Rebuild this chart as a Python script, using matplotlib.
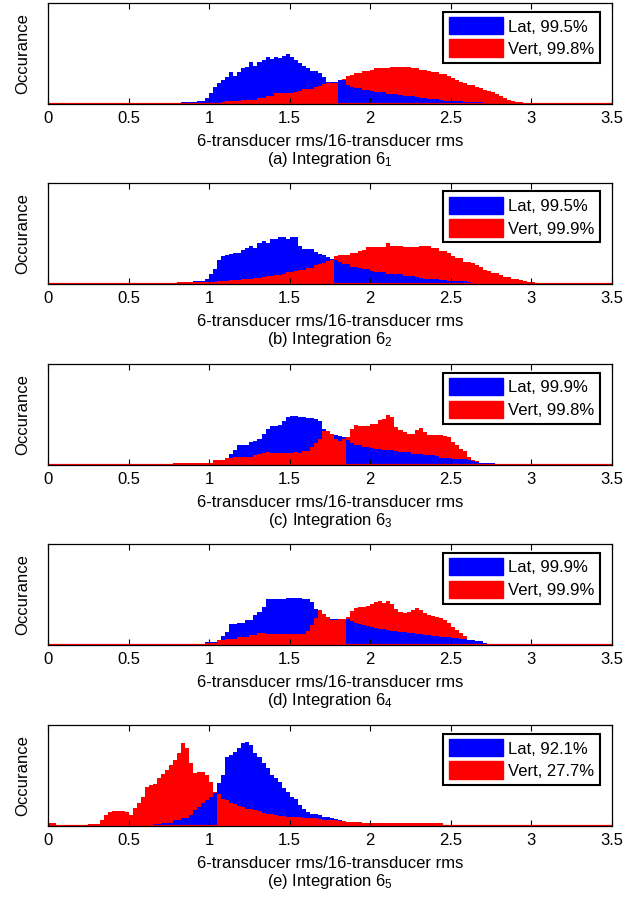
import numpy as np
import matplotlib
matplotlib.use("Agg")
import matplotlib.pyplot as plt

plt.rcParams["font.family"] = ["Liberation Sans", "DejaVu Sans"]
plt.rcParams["mathtext.fontset"] = "custom"
plt.rcParams["mathtext.rm"] = "Liberation Sans"
plt.rcParams["mathtext.it"] = "Liberation Sans:italic"

BIN = 0.025

# --- (a) Integration 6_1 ---
start_a = 0.75
split_a = 1.80
lat_a = [1.5, 1.5, 1.5, 1.7, 1.7, 1.7, 2, 3, 3, 5.7,
         10.7, 17, 21, 24, 26.7, 31.7, 28, 31.7, 35.7, 37,
         41.7, 38, 42, 44, 47, 44.7, 46.7, 45.7, 48, 50,
         47, 44, 40.7, 38, 35.7, 33, 33, 30.7, 27.3, 22,
         22, 22,
         24, 24, 19, 17, 15.7, 15.7, 14, 14, 13, 12.3,
         12.3, 12, 10.5, 10, 10, 9.5, 8.5, 8, 8, 7,
         6, 5.7, 5.5, 5.5, 5, 4, 3.3, 3.3, 3.3, 3,
         2.7, 2, 2, 2, 2, 1.8, 1.5, 1.2, 1, 1,
         1, 1, 1, 1, 1, 1, 1, 0.8, 1.5, 1.5,
         1.5, 0.5]
vert_a = [1.5, 1.5, 1.5, 1.5, 1.5, 1.5, 1.5, 1.5, 1.5, 1.5,
          1.5, 1.5, 1.5, 2, 3, 3, 3, 3.5, 4, 4,
          4, 4.5, 5.7, 6.5, 8, 8.5, 10.7, 10.7, 11, 11.3,
          11.3, 12.5, 13.3, 15, 15, 15.5, 17.3, 18, 19.7, 21,
          21.3, 21.3,
          24.5, 25, 28, 29, 30.7, 31.5, 33, 33, 34.5, 35.7,
          35.7, 36.5, 36, 37.3, 37.3, 37, 37.3, 37, 35.7, 36,
          34.5, 34, 33, 32.3, 32.3, 30.5, 29.7, 28, 25.7, 24.5,
          22.3, 21, 19.5, 19, 17, 15.7, 14.5, 13, 12, 10,
          8, 6.5, 4.5, 3.5, 2.5, 2, 1.5, 1.2, 1, 1,
          1, 0.8]

# --- (b) Integration 6_2 ---
start_b = 0.75
split_b = 1.775
lat_b = [0, 0.5, 1.3, 1.3, 1.3, 1.3, 3.3, 3.3, 3.3, 5.3,
         9.7, 15.3, 23.7, 27.7, 28.7, 29.7, 31.3, 31.3, 33.7, 36,
         38, 36, 41.3, 42.7, 41.3, 44.7, 44.7, 46.7, 46.7, 45.3,
         46.7, 46.7, 38, 35, 34.7, 34.7, 32, 29.7, 29, 27,
         25,
         23.7, 22, 20.3, 20.3, 17, 17, 15.5, 14.7, 14.7, 13,
         12, 12, 11.5, 10.3, 10.3, 10, 9.5, 8, 8, 8,
         7, 5.7, 5.3, 5.3, 5, 4.5, 3.7, 3.7, 3.3, 2.7,
         2.7, 2.7, 2.5, 1.5, 1.3, 1.3, 1.3, 1.3, 1.3, 1.3,
         1.3, 1.3, 1, 1, 1, 1, 0.8, 0.8, 0.8, 0.8,
         0.5, 0.5, 0.5]
vert_b = [1, 1, 2, 2, 2, 2, 2, 2, 2, 2,
          2, 2, 2.7, 2.7, 2.7, 3.7, 3.7, 4, 4.7, 4.7,
          4.7, 6, 6, 7, 8, 8, 9.3, 9.3, 9.5, 12,
          12, 12.5, 13.7, 13.7, 16, 16, 18.7, 19.5, 21.3, 23,
          23.7,
          28, 28.5, 29, 29, 30.7, 30.7, 33, 34, 36.7, 36.7,
          37.3, 37.3, 37.3, 40.7, 38, 38, 38, 37.3, 37.3, 37.3,
          37.3, 38, 38, 38, 35.7, 35.7, 33.3, 33.3, 30.7, 28,
          25.7, 25.7, 22.3, 22.3, 21, 19, 17, 14, 13, 11,
          10.7, 9, 7.3, 7, 5, 4.7, 3.5, 2.5, 2, 1.5,
          1.2, 1, 0.8]

# --- (c) Integration 6_3 ---
start_c = 0.75
split_c = 1.85
lat_c = [1, 1, 1.5, 1.5, 1.5, 1.5, 1.5, 2, 2, 2,
         2, 3, 4, 5, 7, 11.3, 14.7, 20.3, 20.3, 20.3,
         23, 24, 26.3, 31.3, 36.3, 39, 39, 40.3, 44, 48,
         49, 49, 47.7, 47.7, 47, 47, 46.3, 44, 36.3, 31.3,
         29.7, 29.7, 29, 28,
         24.7, 22, 19.7, 19.7, 18, 18, 17, 16.3, 16.3, 15,
         14.7, 14.7, 14, 13, 13, 13, 11.5, 11.3, 11.3, 10,
         9.7, 9.7, 9, 7.5, 7, 7, 6.5, 6, 5.7, 5.7,
         5, 3.7, 3, 2.3, 2.3, 2.3, 2, 1.5, 1.3, 1.3,
         1.3, 1.3, 1.3, 1, 1, 1, 1, 0.8, 0.8, 0.8]
vert_c = [1, 2, 2, 2, 2, 2, 2, 2, 2, 2,
          2, 4.7, 4.7, 4.7, 7, 7, 8, 8, 8, 8,
          8.5, 10.3, 11, 12.3, 13, 12, 12.3, 12, 12.3, 12.5,
          12.5, 13, 12.3, 13.7, 14.5, 18, 22, 26.3, 33.7, 33.7,
          31.3, 25.7, 23.7, 25.7,
          28, 36.3, 39.7, 39, 39, 39, 41.3, 41.3, 44.7, 46.3,
          49.7, 48, 38, 35, 33, 31.3, 31.3, 34.7, 37, 33,
          30.5, 29.7, 29.7, 29.7, 29, 28, 23, 20, 16.3, 13.7,
          8, 5, 3.7, 1.5, 1, 1, 1, 1, 1, 1,
          1, 1, 1, 1, 1, 1, 1, 1, 1, 1]

# --- (d) Integration 6_4 ---
start_d = 0.75
split_d = 1.85
lat_d = [1, 1, 1, 1, 1, 1, 1, 1, 1, 3,
         3, 3, 4.7, 9, 13, 21.3, 21.3, 22.3, 22.3, 24.7,
         24.7, 29.7, 33, 38, 46.3, 46.3, 46.3, 46.3, 46.3, 47,
         47, 47, 47, 46.3, 46.3, 43, 36.3, 33.7, 28, 28,
         25.7, 25.7, 25.7, 25.7,
         26, 24, 22, 21, 20, 19, 18, 17, 16.5, 16,
         15, 14.5, 14, 13, 13, 12.5, 12, 11.5, 11, 10.5,
         10, 9.5, 9, 8.5, 8, 8, 7.5, 7, 6.5, 6,
         5.5, 5, 4.5, 4, 2.5, 1.5, 1.3, 1.3, 1.3, 1.3,
         1.3, 1.3, 1.3, 1.3, 1.3, 1.3, 1.3, 1.3, 1.3, 1.3]
vert_d = [0.7, 0.7, 0.7, 0.7, 0.7, 0.7, 0.7, 0.7, 0.7, 2.3,
          2.3, 2.3, 4.7, 4.7, 6.3, 6.3, 6.3, 8, 8, 8,
          9.7, 9.7, 12.3, 12.3, 11.3, 11.3, 11.3, 11.3, 11.3, 11.3,
          11.3, 11.3, 11.3, 11.3, 13.7, 19.7, 27, 34.7, 31.3, 28,
          24.7, 24.7, 26.3, 26.3,
          28, 34, 37, 38, 38.5, 39, 41, 43, 44, 42,
          44, 41, 36, 33, 32, 33, 35, 37, 35, 32,
          30, 29, 28, 27, 25, 22, 18, 15, 12, 9,
          5, 3, 1.5, 1, 0.8, 0.8, 0.8, 0.8, 0.8, 0.8,
          0.8, 0.8, 0.8, 0.8, 0.8, 0.8, 0.8, 0.8, 0.8, 0.8]

# --- (e) Integration 6_5 ---
split_e = 1.05
start_lat_e = 0.65
lat_e = [2, 2, 3.3, 3.3, 3.5, 6, 6, 7.7, 8, 11,
         16, 18.7, 22.7, 26, 29, 33,
         42.7, 51, 69, 71, 74.3, 77.7, 82.7, 84.3, 81, 72.7,
         69.3, 62.7, 57.7, 51, 48, 44.3, 38, 34, 29.3, 27,
         21, 17, 14.3, 12, 12.5, 11.5, 9.3, 9, 7.7, 7,
         6, 5.5, 4.5, 4, 4, 3.5, 3, 2.3, 2, 2,
         2, 2, 2, 1.8, 1.5, 1.5, 1.2, 0.8]
start_vert_e = 0.0
vert_e = [2.7, 2.7, 0.7, 0.7, 0.7, 0.7, 0.7, 0.7, 0.7, 0.7,
          2, 2, 2.5, 6, 11, 14.3, 15.3, 15.3, 15, 14.3,
          11, 17.7, 22.7, 29.3, 39.3, 41, 42, 47.7, 52, 56,
          61, 66, 72.7, 83, 78, 62.7, 52.7, 54.3, 54, 51,
          44.3, 34,
          32, 27, 26, 22.7, 22, 20, 19, 17, 16.7, 16,
          15, 13, 12.5, 12, 11, 10, 10, 9.5, 9, 8.7,
          8.7, 8.5, 8, 7.7, 7.7, 7.5, 6.5, 6, 6, 6,
          5.5, 5, 4.5, 4.3, 4, 4, 3.5, 3.3, 3.3, 3.3,
          3, 3, 3, 3, 3, 3, 2.7, 2.7, 2.7, 2.7,
          2.7, 2.7, 2.7, 2.7, 2.7, 2.7]

panels = [
    ("a", start_a, lat_a, start_a, vert_a, split_a, "vert", "99.5%", "99.8%"),
    ("b", start_b, lat_b, start_b, vert_b, split_b, "vert", "99.5%", "99.9%"),
    ("c", start_c, lat_c, start_c, vert_c, split_c, "vert", "99.9%", "99.8%"),
    ("d", start_d, lat_d, start_d, vert_d, split_d, "vert", "99.9%", "99.9%"),
    ("e", start_lat_e, lat_e, start_vert_e, vert_e, split_e, "lat", "92.1%", "27.7%"),
]

BLUE = (0, 0, 1)
RED = (1, 0, 0)
FS = 12

# axes bottoms in pixels from the top of the figure
W, H = 634, 898
bottoms = [104, 284, 465, 645, 826]
AX_H = 101
AX_W = 564


def halves(start, vals, split):
    vals = np.asarray(vals, dtype=float)
    edges = start + BIN * np.arange(len(vals) + 1)
    k = int(round((split - start) / BIN))
    return (vals[:k], edges[:k + 1]), (vals[k:], edges[k:])


fig = plt.figure(figsize=(W / 100, H / 100), dpi=100)

for (tag, s_lat, lat, s_vert, vert, split, front_left,
     p_lat, p_vert), bot in zip(panels, bottoms):
    ax = fig.add_axes([48 / W, 1 - bot / H, AX_W / W, AX_H / H])

    lat_l, lat_r = halves(s_lat, lat, split)
    vert_l, vert_r = halves(s_vert, vert, split)
    kw = dict(fill=True, linewidth=0.6)
    if front_left == "vert":
        left = [(lat_l, BLUE), (vert_l, RED)]
        right = [(vert_r, RED), (lat_r, BLUE)]
    else:
        left = [(vert_l, RED), (lat_l, BLUE)]
        right = [(lat_r, BLUE), (vert_r, RED)]
    for (v, e), c in left + right:
        if len(v):
            ax.stairs(v, e, color=c, **kw)

    ax.axhline(0, color=RED, lw=1.6, zorder=4)

    ax.set_xlim(0, 3.5)
    ax.set_ylim(0, AX_H)
    ax.set_xticks(np.arange(0, 3.51, 0.5))
    ax.set_xticklabels(["0", "0.5", "1", "1.5", "2", "2.5", "3", "3.5"])
    ax.set_yticks([])
    ax.tick_params(axis="x", direction="in", top=True, length=4,
                   width=0.8, labelsize=FS, pad=5)
    for sp in ax.spines.values():
        sp.set_linewidth(0.9)
        sp.set_zorder(5)

    ax.set_ylabel("Occurance", fontsize=FS, va="center")
    ax.yaxis.set_label_coords(-25 / AX_W, 0.5)
    ax.set_xlabel("6-transducer rms/16-transducer rms", fontsize=FS, va="center")
    ax.xaxis.set_label_coords(0.5, -37.5 / AX_H)
    ax.text(0.5, -55.5 / AX_H, "(%s) Integration 6$_{%d}$" % (tag, "abcde".index(tag) + 1),
            transform=ax.transAxes, ha="center", va="center", fontsize=FS)

    h_lat = plt.Rectangle((0, 0), 1, 1, color=BLUE)
    h_vert = plt.Rectangle((0, 0), 1, 1, color=RED)
    leg = ax.legend([h_lat, h_vert], ["Lat, " + p_lat, "Vert, " + p_vert],
                    loc="upper right",
                    bbox_to_anchor=(1 - 12 / AX_W, 1 - 8.5 / AX_H),
                    borderaxespad=0, fontsize=FS, handlelength=3.25,
                    handleheight=1.2, handletextpad=0.3, labelspacing=0.3,
                    borderpad=0.35, fancybox=False, framealpha=1)
    leg.get_frame().set_edgecolor("black")
    leg.get_frame().set_linewidth(1.5)
    leg.set_zorder(6)

fig.savefig("out.png", dpi=100)
